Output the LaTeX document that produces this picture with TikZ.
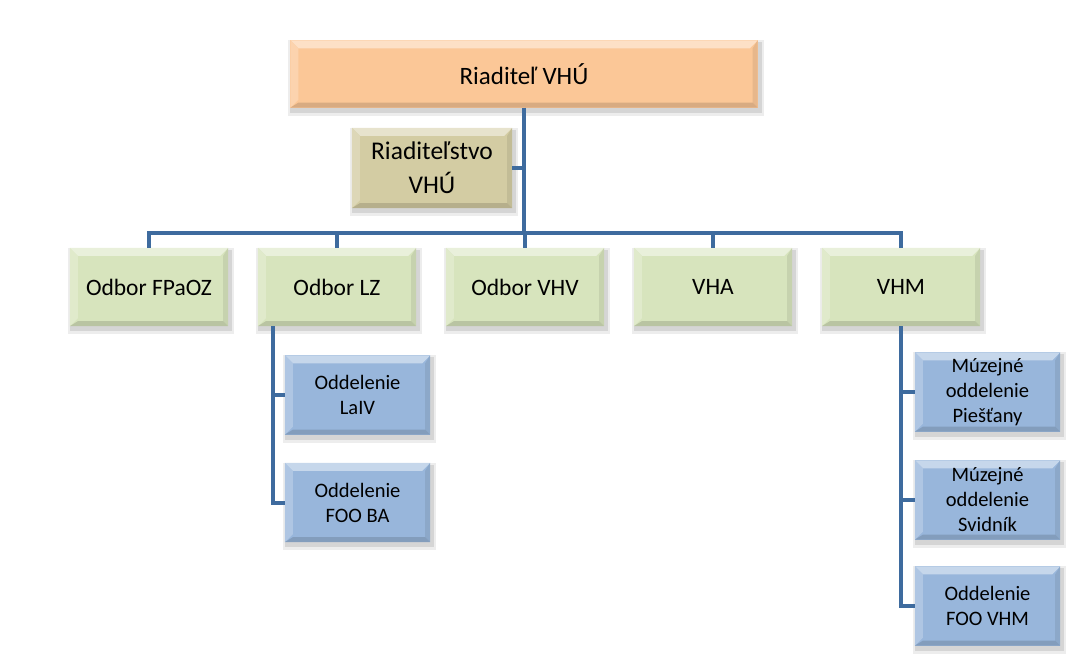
\documentclass[tikz,border=0pt]{standalone}
\usepackage{fontspec}
\setmainfont{Carlito}
\usetikzlibrary{backgrounds}
\definecolor{orng}{HTML}{FBC797}
\definecolor{khaki}{HTML}{D3CCA3}
\definecolor{grn}{HTML}{D7E4BD}
\definecolor{blu}{HTML}{98B6DB}
\definecolor{lineblue}{HTML}{3E6B9E}
\tikzset{
  box/.style={inner sep=0pt, align=center, text=black},
  topbox/.style={box, minimum width=467pt, minimum height=67pt, font=\fontsize{25}{30}\selectfont},
  riadbox/.style={box, minimum width=160pt, minimum height=80pt, font=\fontsize{25.5}{34}\selectfont},
  grnbox/.style={box, minimum width=158pt, minimum height=78pt, font=\fontsize{23.5}{28}\selectfont},
  blubox/.style={box, minimum width=145pt, minimum height=79pt, font=\fontsize{20.5}{25}\selectfont},
  conn/.style={draw=lineblue, line width=4pt},
}
\newcommand\bevbox[2]{%
\begin{pgfonlayer}{background}
 \fill[black,opacity=0.07] ([shift={(-2,0)}]#1.north west) rectangle ([shift={(6,8)}]#1.south east);
 \fill[black,opacity=0.10] ([shift={(0,2)}]#1.north west) rectangle ([shift={(4,5)}]#1.south east);
 \fill[#2] (#1.north west) rectangle (#1.south east);
 \fill[#2!55!white] (#1.north west) -- (#1.north east) -- ([shift={(-8,8)}]#1.north east) -- ([shift={(8,8)}]#1.north west) -- cycle;
 \fill[#2!78!white] (#1.north west) -- ([shift={(8,8)}]#1.north west) -- ([shift={(8,-8)}]#1.south west) -- (#1.south west) -- cycle;
 \fill[#2!92!black] (#1.north east) -- (#1.south east) -- ([shift={(-5,-5)}]#1.south east) -- ([shift={(-5,8)}]#1.north east) -- cycle;
 \fill[#2!86!black] (#1.south west) -- (#1.south east) -- ([shift={(-5,-5)}]#1.south east) -- ([shift={(8,-5)}]#1.south west) -- cycle;
\end{pgfonlayer}}
\begin{document}
\begin{tikzpicture}[x=1pt,y=-1pt]
\useasboundingbox (0,0) rectangle (1088,669);
\node[topbox] (top) at (524,74) {Riaditeľ VHÚ};
\node[riadbox] (riad) at (432,168) {Riaditeľstvo\\VHÚ};
\node[grnbox] (fpaoz) at (149,287) {Odbor FPaOZ};
\node[grnbox] (lz) at (337,287) {Odbor LZ};
\node[grnbox] (vhv) at (525,287) {Odbor VHV};
\node[grnbox] (vha) at (713,287) {VHA};
\node[grnbox] (vhm) at (901,287) {VHM};
\node[blubox] (laiv) at (357.5,395) {Oddelenie\\LaIV};
\node[blubox] (fooba) at (357.5,502.5) {Oddelenie\\FOO BA};
\node[blubox] (pies) at (987.5,392) {Múzejné\\oddelenie\\Piešťany};
\node[blubox] (svid) at (987.5,500) {Múzejné\\oddelenie\\Svidník};
\node[blubox] (foovhm) at (987.5,606) {Oddelenie\\FOO VHM};
\bevbox{top}{orng}
\bevbox{riad}{khaki}
\bevbox{fpaoz}{grn}
\bevbox{lz}{grn}
\bevbox{vhv}{grn}
\bevbox{vha}{grn}
\bevbox{vhm}{grn}
\bevbox{laiv}{blu}
\bevbox{fooba}{blu}
\bevbox{pies}{blu}
\bevbox{svid}{blu}
\bevbox{foovhm}{blu}
\coordinate (bus) at (524,233);
\draw[conn] (top.south) -- (bus);
\draw[conn] (riad.east) -- (riad.east -| top.south);
\draw[conn] (fpaoz.north) |- (bus);
\draw[conn] (lz.north) |- (bus);
\draw[conn] (vhv.north) |- (bus);
\draw[conn] (vha.north) |- (bus);
\draw[conn] (vhm.north) |- (bus);
\coordinate (lzs) at ([xshift=15pt]lz.south west);
\draw[conn] (lzs) |- (laiv.west);
\draw[conn] (lzs) |- (fooba.west);
\draw[conn] (vhm.south) |- (pies.west);
\draw[conn] (vhm.south) |- (svid.west);
\draw[conn] (vhm.south) |- (foovhm.west);
\end{tikzpicture}
\end{document}
